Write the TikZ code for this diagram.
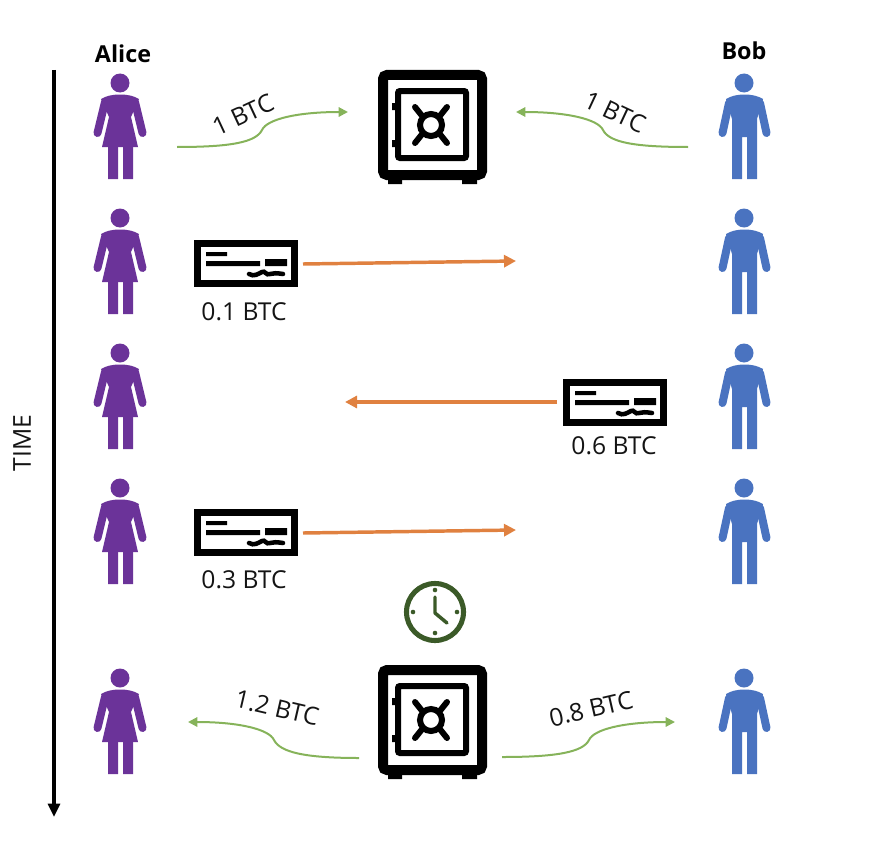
\documentclass[tikz,border=0pt]{standalone}
\usepackage{fontspec}
\setmainfont{Open Sans}
\usetikzlibrary{arrows.meta}
\definecolor{alicec}{HTML}{6B3399}
\definecolor{bobc}{HTML}{4A73C0}
\definecolor{greenc}{HTML}{86B35A}
\definecolor{orangec}{HTML}{E08140}
\definecolor{clockc}{HTML}{3B5A28}
\tikzset{
  flow/.style={draw=greenc,line width=1.5pt,-{Triangle[length=7pt,width=7pt]}},
  pay/.style={draw=orangec,line width=2.6pt,-{Triangle[length=9pt,width=9pt]}},
  lbl/.style={font=\fontsize{18.5}{22}\selectfont,inner sep=0pt,text=black!92},
  personname/.style={font=\fontsize{17.5}{20}\selectfont\bfseries,inner sep=0pt},
  alice/.pic={
    \fill[alicec] (0,0) circle (9.5);
    \fill[alicec] (0,11.5) .. controls (-8,11.5) and (-14,13) .. (-19,16) -- (-11,34) -- (-18,64) -- (18,64) -- (11,34) -- (19,16) .. controls (14,13) and (8,11.5) .. (0,11.5) -- cycle;
    \fill[alicec] (-12,60) rectangle (-2,96) (3,60) rectangle (13,96);
    \draw[alicec,line width=6pt,line cap=round] (-15,19) -- (-22.5,50) (15,19) -- (22.5,50);
  },
  bob/.pic={
    \fill[bobc] (0,0) circle (9.5);
    \fill[bobc] (0.5,11.5) .. controls (-7,11.5) and (-13,13) .. (-18,16) -- (-12,36) -- (-12,96) -- (-2,96) -- (-2,54) -- (3,54) -- (3,96) -- (13,96) -- (13,36) -- (19,16) .. controls (14,13) and (8,11.5) .. (0.5,11.5) -- cycle;
    \draw[bobc,line width=6pt,line cap=round] (-15,20) -- (-21.5,50) (16,20) -- (22.5,50);
  },
  safe/.pic={
    \draw[black,line width=7.5pt,rounded corners=3pt] (5,5) rectangle (104,105);
    \fill[black] (10,108) rectangle (24,114) (84,108) rectangle (99,114);
    \draw[black,line width=4.5pt,rounded corners=1.5pt] (20,21) rectangle (88,88);
    \fill[black] (14,33) rectangle (18,40) (14,70) rectangle (18,77);
    \draw[black,line width=4.5pt] (53,55) circle (11);
    \draw[black,line width=4.5pt,line cap=round]
      (37,37) -- (45,47) (69,37) -- (61,47) (37,73) -- (45,63) (69,73) -- (61,63);
  },
  cheque/.pic={
    \draw[black,line width=5.3pt] (3.5,3.5) rectangle (100.5,43.5);
    \fill[black] (12,12) rectangle (33,16) (12,21) rectangle (66,26) (71,19) rectangle (93,26);
    \draw[black,line width=3.4pt,line cap=round] (55,34) .. controls (60,37) and (64,34) .. (68,32) .. controls (71,30) and (72,36) .. (76,34) .. controls (80,33) and (82,33) .. (89,34);
  },
  clock/.pic={
    \draw[clockc,line width=3.8pt] (0,0) circle (28.5);
    \fill[clockc] (0,-22) circle (2.3) (0,21) circle (2.3) (-22,0) circle (2.3) (22,0) circle (2.3);
    \draw[clockc,line width=2.6pt,line cap=round,line join=round] (0,-15) -- (0,1) -- (12,11);
  },
}
\begin{document}
\begin{tikzpicture}[x=0.75pt,y=-0.75pt]
\useasboundingbox (0,0) rectangle (870,856);
% timeline
\coordinate (timeTop) at (54,70);
\coordinate (timeEnd) at (54,817);
\draw[black,line width=2.3pt,-{Triangle[length=10pt,width=9pt]}] (timeTop) -- (timeEnd);
\node[lbl,rotate=90] (timeLabel) at (22,443) {TIME};
% names
\node[personname] (aliceName) at (123,54) {Alice};
\node[personname] (bobName) at (744,51) {Bob};
% people
\foreach \r/\yy in {1/83,2/218,3/353,4/488,5/678}{
  \pic (alice\r) at (120,\yy) {alice};
  \pic (bob\r) at (744,\yy) {bob};
}
% safes
\pic (safeA) at (378,70) {safe};
\pic (safeB) at (378,665) {safe};
% cheques
\pic (chequeA) at (194,240) {cheque};
\pic (chequeB) at (563,379) {cheque};
\pic (chequeC) at (194,509) {cheque};
% clock
\pic (clockA) at (435,612) {clock};
% connector ends
\coordinate (a1) at (177,147); \coordinate (a2) at (348,112);
\coordinate (b1) at (688,147); \coordinate (b2) at (516,112);
\coordinate (c1) at (359,758); \coordinate (c2) at (188,722);
\coordinate (d1) at (502,757); \coordinate (d2) at (675,722);
\coordinate (e1) at (303,264); \coordinate (e2) at (516,261);
\coordinate (f1) at (557,402); \coordinate (f2) at (345,402);
\coordinate (g1) at (303,533); \coordinate (g2) at (516,530);
% green curves
\draw[flow] (a1) .. controls +(55,0) and +(-6,12) .. (262,130) .. controls +(5,-11) and +(-50,0) .. (a2);
\draw[flow] (b1) .. controls +(-55,0) and +(6,12) .. (603,130) .. controls +(-5,-11) and +(50,0) .. (b2);
\draw[flow] (c1) .. controls +(-55,0) and +(6,12) .. (274,740) .. controls +(-5,-11) and +(50,0) .. (c2);
\draw[flow] (d1) .. controls +(55,0) and +(-6,12) .. (589,740) .. controls +(5,-11) and +(-50,0) .. (d2);
% orange arrows
\draw[pay] (e1) -- (e2);
\draw[pay] (f1) -- (f2);
\draw[pay] (g1) -- (g2);
% labels
\node[lbl,rotate=25] (l1) at (243,115) {1 BTC};
\node[lbl,rotate=-25] (l2) at (615,112) {1 BTC};
\node[lbl,rotate=-13] (l3) at (277,708) {1.2 BTC};
\node[lbl,rotate=13] (l4) at (591,709) {0.8 BTC};
\node[lbl] (l5) at (244,312) {0.1 BTC};
\node[lbl] (l6) at (614,446) {0.6 BTC};
\node[lbl] (l7) at (244,580) {0.3 BTC};
\end{tikzpicture}
\end{document}
